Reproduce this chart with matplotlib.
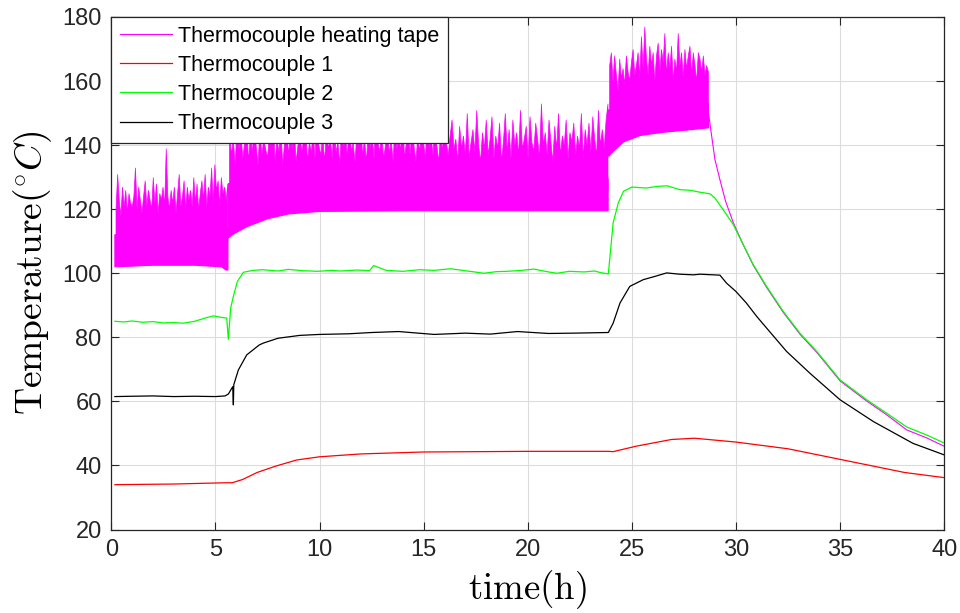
#!/usr/bin/env python3
"""
plot.py
Thermocouple temperatures over a 40 h heating run
"""
import numpy as np
import matplotlib
matplotlib.use('Agg')
import matplotlib.pyplot as plt

# ---- Thermocouple 1 (red) ----
tc1_t = [0.17, 3.0, 5.5, 5.8, 6.3, 7.0, 7.9, 8.9, 10.0, 12.0, 15.0, 20.0,
         23.9, 24.1, 25.2, 26.9, 28.0, 30.0, 32.5, 35.0, 38.1, 40.0]
tc1_v = [34.0, 34.2, 34.6, 34.6, 35.6, 37.8, 39.8, 41.7, 42.7, 43.6, 44.2, 44.4,
         44.4, 44.3, 46.0, 48.1, 48.5, 47.3, 45.2, 41.9, 37.8, 36.2]

# ---- Thermocouple 2 (green) ----
tc2_t = [0.17, 0.6, 1.0, 1.5, 2.0, 2.5, 3.0, 3.45, 4.0, 4.5, 4.9, 5.3, 5.54,
         5.62, 5.73, 5.86, 6.05, 6.34, 6.8, 7.25, 8.0, 8.5, 9.2, 9.9, 10.6,
         11.0, 11.8, 12.4, 12.6, 13.2, 14.0, 14.8, 15.5, 16.3, 17.1, 17.9,
         18.5, 19.0, 19.7, 20.3, 21.0, 21.4, 22.0, 22.7, 23.2, 23.5, 23.87,
         23.95, 24.1, 24.35, 24.6, 25.0, 25.7, 26.2, 26.7, 27.3, 27.8, 28.27,
         28.75, 28.99, 29.39, 29.87, 30.35, 30.83, 31.47, 32.27, 33.07, 33.88,
         35.0, 36.28, 37.24, 38.2, 39.16, 40.0]
tc2_v = [85.0, 84.8, 85.1, 84.7, 84.9, 84.5, 84.6, 84.4, 85.0, 86.0, 86.7, 86.2, 86.0,
         79.4, 89.1, 92.8, 97.4, 100.3, 100.9, 101.1, 100.7, 101.2, 100.8, 100.6, 100.9,
         100.7, 101.0, 100.8, 102.4, 100.9, 100.6, 101.1, 100.9, 101.4, 100.7, 100.0,
         100.5, 100.6, 100.9, 101.3, 100.4, 100.0, 100.6, 100.4, 100.7, 100.2, 99.8,
         105.3, 115.7, 122.0, 125.6, 126.9, 126.6, 127.1, 127.3, 126.1, 125.9, 125.3,
         124.8, 123.5, 119.8, 115.2, 108.9, 102.7, 95.9, 88.1, 81.3, 75.6,
         66.7, 60.5, 56.3, 52.0, 49.5, 47.0]

# ---- Thermocouple 3 (black) ----
tc3_t = [0.17, 1.0, 2.0, 3.0, 4.0, 5.0, 5.46, 5.62, 5.83, 5.86, 5.88, 6.1,
         6.5, 7.1, 7.3, 8.0, 9.05, 10.0, 11.4, 12.5, 13.8, 15.5, 17.0, 18.2,
         19.5, 21.0, 22.2, 23.0, 23.87, 24.1, 24.43, 24.9, 25.55, 26.1, 26.67,
         27.3, 27.96, 28.27, 29.23, 29.55, 30.0, 30.5, 31.0, 31.47, 32.43, 33.55,
         35.0, 36.6, 38.5, 40.0]
tc3_v = [61.5, 61.6, 61.7, 61.5, 61.6, 61.5, 61.7, 62.3, 64.6, 58.9, 65.2, 69.8,
         74.5, 77.6, 78.2, 79.7, 80.6, 80.9, 81.1, 81.5, 81.8, 80.9, 81.3, 81.0,
         81.8, 81.2, 81.3, 81.4, 81.5, 84.4, 90.7, 95.9, 98.0, 99.0, 100.1,
         99.7, 99.5, 99.7, 99.4, 96.9, 94.3, 90.7, 86.5, 82.9, 75.6, 68.8,
         60.5, 53.7, 46.9, 43.3]

# ---- Heating tape thermocouple (magenta) ----
# oscillating band per heating stage: lower envelope, dense core, spike tops
seg_start = [0.17, 5.62, 23.88]
seg_end = [5.6, 23.86, 28.68]

seg1_low_t = [0.17, 2.0, 4.0, 5.3, 5.5, 5.6]
seg1_low_v = [102.0, 102.5, 102.5, 102.0, 101.0, 101.0]
seg1_top_t = [0.17, 1.0, 3.0, 5.0, 5.6]
seg1_top_v = [112.0, 113.0, 114.0, 114.0, 114.0]
seg1_peaks = [120, 131, 123, 118, 127, 121, 126, 119, 125, 122, 121, 124, 133, 120,
              127, 123, 119, 124, 129, 121, 126, 123, 120, 130, 122, 128, 119, 125,
              123, 127, 121, 139, 124, 120, 126, 122, 127, 119, 125, 131, 121, 124,
              129, 120, 127, 123, 126, 121, 130, 122, 128, 120, 125, 129, 123, 131,
              121, 127, 124, 133, 122, 134, 126, 129, 121, 130, 125, 127, 123, 128]

seg2_low_t = [5.62, 5.8, 6.5, 7.5, 8.5, 10.0, 14.0, 20.0, 23.86]
seg2_low_v = [111.0, 112.0, 114.5, 117.0, 118.5, 119.3, 119.5, 119.5, 119.5]
seg2_top_t = [5.62, 6.5, 9.0, 14.0, 20.0, 23.86]
seg2_top_v = [128.0, 128.5, 129.0, 129.0, 129.5, 129.5]
seg2_peaks = [145, 137, 142, 134, 147, 139, 144, 136, 141, 148, 135, 143, 138, 146, 140, 134, 145, 137, 142, 139,
              136, 144, 140, 147, 135, 142, 138, 145, 134, 141, 149, 137, 143, 139, 146, 135, 140, 144, 138, 142,
              147, 135, 141, 138, 144, 136, 150, 140, 137, 143, 135, 145, 139, 142, 136, 148, 138, 141, 134, 146,
              139, 143, 136, 151, 138, 141, 135, 144, 140, 147, 137, 142, 135, 145, 139, 143, 136, 149, 141, 138,
              144, 136, 140, 148, 137, 142, 135, 146, 139, 143, 138, 152, 136, 141, 144, 137, 147, 140, 135, 143,
              138, 145, 141, 136, 149, 139, 143, 137, 146, 140, 135, 144, 138, 150, 141, 137, 143, 148, 139, 142,
              135, 146, 139, 143, 137, 150, 136, 141, 145, 138, 151, 140, 135, 144, 139, 148, 137, 142, 149, 136,
              143, 139, 147, 135, 141, 150, 138, 145, 136, 148, 140, 144, 137, 151, 139, 142, 146, 136, 149, 141,
              138, 147, 142, 136, 153, 140, 144, 137, 148, 141, 135, 146, 139, 150, 137, 143, 140, 148, 136, 144,
              141, 147, 137, 143, 139, 150, 136, 145, 140, 147, 138, 149, 142, 137, 151, 140, 145, 139, 148, 153]

seg3_low_t = [23.88, 24.1, 24.6, 25.4, 26.5, 27.8, 28.68]
seg3_low_v = [136.5, 138.0, 141.0, 143.0, 144.0, 144.8, 145.4]
seg3_top_t = [23.88, 25.0, 26.0, 27.5, 28.68]
seg3_top_v = [151.0, 152.0, 153.0, 153.0, 153.0]
seg3_peaks = [165, 169, 160, 168, 162, 157, 167, 161, 164, 159, 168, 163, 160, 166, 170, 162, 165, 169, 161, 174,
              164, 177, 167, 162, 171, 165, 169, 160, 168, 172, 163, 170, 166, 175, 162, 169, 164, 171, 160, 167,
              163, 175, 165, 169, 161, 170, 164, 168, 171, 162, 169, 165, 160, 169, 167, 163, 168, 162, 165, 163]

tape_decay_t = [28.68, 28.99, 29.23, 29.5, 29.87, 30.35, 30.83, 31.47, 32.27,
                33.07, 33.88, 35.0, 36.28, 37.24, 38.2, 39.16, 40.0]
tape_decay_v = [150.0, 135.5, 129.2, 122.5, 115.8, 108.9, 102.5, 95.6, 87.8,
                81.0, 75.3, 66.4, 60.1, 55.8, 51.1, 48.6, 46.0]

magenta = '#ff00ff'
dark = '#262626'

plt.rcParams['mathtext.fontset'] = 'cm'
plt.rcParams['font.family'] = ['Liberation Sans', 'DejaVu Sans']

fig = plt.figure(figsize=(9.6, 6.13), dpi=100)
ax = fig.add_axes([0.116, 0.1362, 0.8675, 0.8361])

# heating tape: dense core + jagged spikes for each stage, then the decay line
segs = [
    (seg1_low_t, seg1_low_v, seg1_top_t, seg1_top_v, seg1_peaks),
    (seg2_low_t, seg2_low_v, seg2_top_t, seg2_top_v, seg2_peaks),
    (seg3_low_t, seg3_low_v, seg3_top_t, seg3_top_v, seg3_peaks),
]
for i, (lt, lv, tt, tv, peaks) in enumerate(segs):
    poly_t = list(lt) + list(tt)[::-1]
    poly_v = list(lv) + list(tv)[::-1]
    ax.fill(poly_t, poly_v, color=magenta, lw=0.8, zorder=2)
    spike_t = np.linspace(seg_start[i] + 0.03, seg_end[i] - 0.03, len(peaks))
    ax.fill_between(spike_t, min(tv) - 2, peaks, facecolor=magenta,
                    edgecolor=magenta, lw=0.5, zorder=2)
ax.plot(tape_decay_t, tape_decay_v, color=magenta, lw=0.8, zorder=2,
        label='Thermocouple heating tape')

ax.plot(tc1_t, tc1_v, color='#ff0000', lw=0.9, zorder=3, label='Thermocouple 1')
ax.plot(tc2_t, tc2_v, color='#00ff00', lw=0.9, zorder=3, label='Thermocouple 2')
ax.plot(tc3_t, tc3_v, color='black', lw=0.9, zorder=3, label='Thermocouple 3')

# axes, ticks, grid
ax.set_xlim(0, 40)
ax.set_ylim(20, 180)
ax.set_xticks(np.arange(0, 41, 5))
ax.set_yticks(np.arange(20, 181, 20))
ax.grid(True, color='#dcdcdc', lw=0.8)
ax.set_axisbelow(True)
ax.tick_params(direction='in', length=6, width=0.8, colors=dark,
               top=True, right=True, labelsize=17, pad=7)
for s in ax.spines.values():
    s.set_color(dark)
    s.set_linewidth(0.9)

ax.set_xlabel(r'$\mathrm{time(h)}$', fontsize=26.5, labelpad=5)
ax.set_ylabel(r'$\mathrm{Temperature}(^{\circ}C)$', fontsize=27, labelpad=6)

leg = ax.legend(loc='upper left', fontsize=15.5, frameon=True, fancybox=False,
                framealpha=1, edgecolor=dark, borderaxespad=0, borderpad=0.4,
                handlelength=2.4, handletextpad=0.3, labelspacing=0.38)
leg.get_frame().set_linewidth(0.9)

plt.savefig('out.png', dpi=100)
